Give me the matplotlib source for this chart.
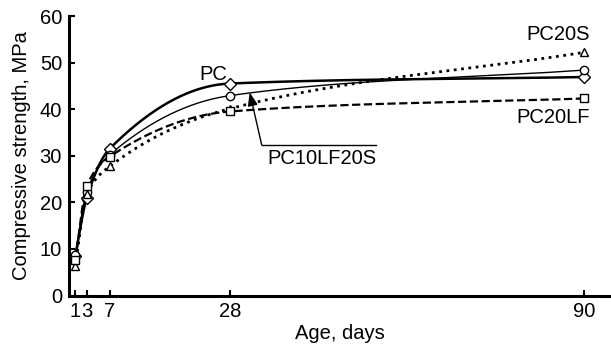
import numpy as np
import matplotlib
matplotlib.use("Agg")
import matplotlib.pyplot as plt

plt.rcParams['font.family'] = ['Liberation Sans', 'DejaVu Sans']

days = [1, 3, 7, 28, 90]
pc = [8.5, 21.0, 31.5, 45.5, 46.9]
pc10lf20s = [8.6, 22.3, 30.2, 42.9, 48.4]
pc20s = [6.3, 21.7, 27.7, 40.1, 52.2]
pc20lf = [7.6, 23.5, 29.8, 39.5, 42.3]
xticks = [1, 3, 7, 28, 90]
yticks = [0, 10, 20, 30, 40, 50, 60]


def smooth(x, y, n=300):
    # monotone cubic (Fritsch-Carlson) rendering of the line through the points
    x = np.asarray(x, float); y = np.asarray(y, float)
    h = np.diff(x); d = np.diff(y) / h
    m = np.zeros_like(y)
    m[0] = d[0]; m[-1] = d[-1]
    for i in range(1, len(x) - 1):
        if d[i - 1] * d[i] <= 0:
            m[i] = 0
        else:
            w1 = 2 * h[i] + h[i - 1]; w2 = h[i] + 2 * h[i - 1]
            m[i] = (w1 + w2) / (w1 / d[i - 1] + w2 / d[i])
    xs = np.linspace(x[0], x[-1], n)
    idx = np.clip(np.searchsorted(x, xs) - 1, 0, len(x) - 2)
    t = (xs - x[idx]) / h[idx]
    h00 = 2 * t**3 - 3 * t**2 + 1; h10 = t**3 - 2 * t**2 + t
    h01 = -2 * t**3 + 3 * t**2; h11 = t**3 - t**2
    ys = h00 * y[idx] + h10 * h[idx] * m[idx] + h01 * y[idx + 1] + h11 * h[idx] * m[idx + 1]
    return xs, ys


fig = plt.figure(figsize=(6.11, 3.48), dpi=100)
ax = fig.add_axes([69 / 611, 1 - 295.5 / 348, (610 - 69) / 611, (295.5 - 16) / 348])

series = [
    (pc, 'D', '-', 1.8),
    (pc10lf20s, 'o', '-', 1.0),
    (pc20s, '^', ':', 2.0),
    (pc20lf, 's', '--', 1.6),
]
for vals, mk, ls, lw in series:
    xs, ys = smooth(days, vals)
    ax.plot(xs, ys, color='black', linestyle=ls, linewidth=lw, zorder=2)
    ax.plot(days, vals, linestyle='none', marker=mk, markersize=6,
            markerfacecolor='white', markeredgecolor='black', markeredgewidth=1.0, zorder=3)

ax.set_xlim(-0.1, 94.5)
ax.set_ylim(0, 60)
ax.set_xticks(xticks)
ax.set_yticks(yticks)
ax.spines['top'].set_visible(False)
ax.spines['right'].set_visible(False)
for s in ['left', 'bottom']:
    ax.spines[s].set_linewidth(2.2)
ax.tick_params(direction='in', length=4, width=1.5, labelsize=14.5, pad=5)
ax.set_xlabel('Age, days', fontsize=14.5, labelpad=2)
ax.set_ylabel('Compressive strength, MPa', fontsize=14.5, labelpad=6)

ax.text(27.5, 47.4, 'PC', fontsize=14.5, ha='right', va='center')
ax.text(91, 54.0, 'PC20S', fontsize=14.5, ha='right', va='bottom')
ax.text(91, 40.3, 'PC20LF', fontsize=14.5, ha='right', va='top')
ax.text(34.6, 29.4, 'PC10LF20S', fontsize=14.5, ha='left', va='center')
ax.plot([33.6, 53.5], [32.3, 32.3], color='black', linewidth=1.0)
ax.annotate('', xy=(31.5, 43.6), xytext=(33.6, 32.3),
            arrowprops=dict(arrowstyle='-|>,head_length=0.8,head_width=0.3', color='black', lw=1.0,
                            shrinkA=0, shrinkB=0))

fig.savefig('out.png', dpi=100)
